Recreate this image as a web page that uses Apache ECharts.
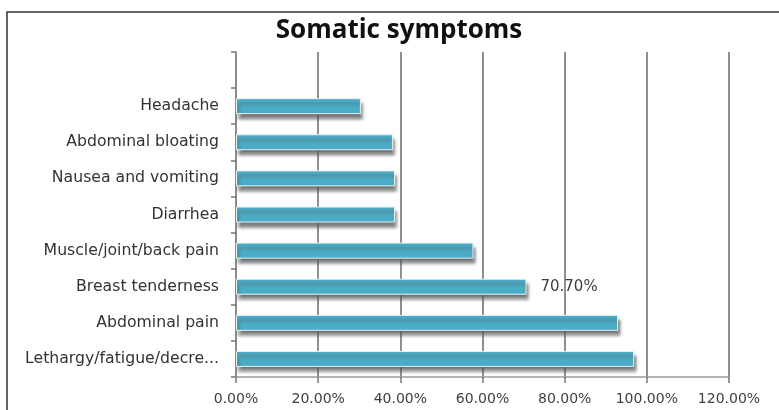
<!DOCTYPE html>
<html>
<head>
<meta charset="utf-8">
<script src="https://cdn.jsdelivr.net/npm/echarts@6/dist/echarts.min.js"></script>
<style>
  html, body { margin: 0; padding: 0; background: #fff; }
  #chart { width: 779px; height: 410px; }
</style>
</head>
<body>
<div id="chart"></div>
<script>
// categories top to bottom (first slot is empty in the original)
var symptoms = ['', 'Headache', 'Abdominal bloating', 'Nausea and vomiting', 'Diarrhea',
    'Muscle/joint/back pain', 'Breast tenderness', 'Abdominal pain', 'Lethargy/fatigue/decre...'];
var percents = [null, 30.4, 38.2, 38.7, 38.7, 57.8, 70.7, 93.0, 96.9];
var labelled = ['Breast tenderness'];
var xTicks = [0, 20, 40, 60, 80, 100, 120];

var chart = echarts.init(document.getElementById('chart'));

var barData = percents.map(function (v, i) {
    var item = { value: v };
    if (labelled.indexOf(symptoms[i]) >= 0) {
        item.label = { show: true };
    }
    return item;
});

var option = {
    animation: false,
    title: {
        text: 'Somatic symptoms',
        left: 394,
        textAlign: 'center',
        top: 13,
        textStyle: { fontFamily: 'Open Sans', fontWeight: 'bold', fontSize: 26, color: '#111' }
    },
    graphic: [{
        type: 'rect',
        shape: { x: 7, y: 12, width: 800, height: 420 },
        style: { fill: 'none', stroke: '#333', lineWidth: 1.5 },
        silent: true
    }],
    grid: { left: 236, right: 50, top: 52, bottom: 33 },
    xAxis: {
        type: 'value',
        min: xTicks[0],
        max: xTicks[xTicks.length - 1],
        interval: 20,
        axisLine: { show: true, lineStyle: { color: '#9a9a9a', width: 1.5 } },
        axisTick: { show: true, length: 6, lineStyle: { color: '#777', width: 1.5 } },
        splitLine: { show: true, lineStyle: { color: '#8f8f8f', width: 2 } },
        axisLabel: {
            margin: 15,
            fontFamily: 'DejaVu Sans', fontSize: 14, color: '#404040',
            formatter: function (v) { return v.toFixed(2) + '%'; }
        }
    },
    yAxis: {
        type: 'category',
        inverse: true,
        data: symptoms,
        axisLine: { show: true, lineStyle: { color: '#8a8a8a', width: 1.5 } },
        axisTick: { show: true, length: 5, lineStyle: { color: '#777', width: 1.5 } },
        axisLabel: { margin: 17, fontFamily: 'DejaVu Sans', fontSize: 15.7, color: '#333' }
    },
    series: [{
        type: 'bar',
        data: barData,
        barWidth: 16,
        itemStyle: {
            color: '#4aacc6',
            borderColor: '#e8f1f4',
            borderWidth: 1,
            shadowColor: 'rgba(90,90,90,0.85)',
            shadowBlur: 3,
            shadowOffsetX: 2,
            shadowOffsetY: 5
        },
        label: {
            show: false,
            position: 'right',
            distance: 14,
            fontFamily: 'DejaVu Sans', fontSize: 15, color: '#404040',
            formatter: function (p) { return p.value.toFixed(2) + '%'; }
        }
    }]
};

chart.setOption(option);
</script>
</body>
</html>
